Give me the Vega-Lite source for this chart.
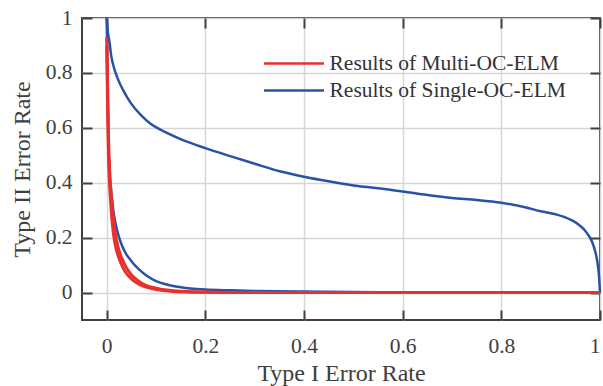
{
  "$schema": "https://vega.github.io/schema/vega-lite/v6.json",
  "width": 518,
  "height": 302,
  "autosize": {"type": "none"},
  "padding": {"left": 82, "top": 18, "right": 3, "bottom": 66},
  "config": {
    "view": {"stroke": "#404040", "strokeWidth": 2},
    "font": "Liberation Serif",
    "style": {
      "guide-label": {"font": "Liberation Serif"},
      "guide-title": {"font": "Liberation Serif"}
    },
    "axis": {
      "domain": false,
      "gridColor": "#d6d6d6",
      "gridWidth": 1.5,
      "tickColor": "#404040",
      "tickWidth": 2,
      "tickSize": -10,
      "labelFont": "Liberation Serif",
      "labelFontSize": 21.5,
      "labelColor": "#404040",
      "titleFont": "Liberation Serif",
      "titleFontSize": 24,
      "titleFontWeight": "normal",
      "titleColor": "#404040"
    },
    "legend": {
      "orient": "none",
      "legendX": 180.5,
      "legendY": 29,
      "padding": 0,
      "symbolType": "M-1,0L3,0",
      "symbolSize": 900,
      "symbolStrokeWidth": 2.5,
      "labelFont": "Liberation Serif",
      "labelFontSize": 21.5,
      "labelColor": "#333333",
      "labelOffset": 34,
      "labelLimit": 400,
      "rowPadding": 0
    }
  },
  "datasets": {
    "curves": [
      {"series": "Results of Single-OC-ELM", "curve": "a", "x": 0, "y": 1},
      {"series": "Results of Single-OC-ELM", "curve": "a", "x": 0.002, "y": 0.956},
      {"series": "Results of Single-OC-ELM", "curve": "a", "x": 0.006, "y": 0.908},
      {"series": "Results of Single-OC-ELM", "curve": "a", "x": 0.009, "y": 0.865},
      {"series": "Results of Single-OC-ELM", "curve": "a", "x": 0.015, "y": 0.818},
      {"series": "Results of Single-OC-ELM", "curve": "a", "x": 0.022, "y": 0.781},
      {"series": "Results of Single-OC-ELM", "curve": "a", "x": 0.035, "y": 0.732},
      {"series": "Results of Single-OC-ELM", "curve": "a", "x": 0.049, "y": 0.69},
      {"series": "Results of Single-OC-ELM", "curve": "a", "x": 0.069, "y": 0.647},
      {"series": "Results of Single-OC-ELM", "curve": "a", "x": 0.089, "y": 0.615},
      {"series": "Results of Single-OC-ELM", "curve": "a", "x": 0.105, "y": 0.597},
      {"series": "Results of Single-OC-ELM", "curve": "a", "x": 0.123, "y": 0.581},
      {"series": "Results of Single-OC-ELM", "curve": "a", "x": 0.15, "y": 0.559},
      {"series": "Results of Single-OC-ELM", "curve": "a", "x": 0.2, "y": 0.526},
      {"series": "Results of Single-OC-ELM", "curve": "a", "x": 0.252, "y": 0.496},
      {"series": "Results of Single-OC-ELM", "curve": "a", "x": 0.302, "y": 0.468},
      {"series": "Results of Single-OC-ELM", "curve": "a", "x": 0.353, "y": 0.441},
      {"series": "Results of Single-OC-ELM", "curve": "a", "x": 0.4, "y": 0.422},
      {"series": "Results of Single-OC-ELM", "curve": "a", "x": 0.45, "y": 0.405},
      {"series": "Results of Single-OC-ELM", "curve": "a", "x": 0.5, "y": 0.39},
      {"series": "Results of Single-OC-ELM", "curve": "a", "x": 0.55, "y": 0.38},
      {"series": "Results of Single-OC-ELM", "curve": "a", "x": 0.6, "y": 0.368},
      {"series": "Results of Single-OC-ELM", "curve": "a", "x": 0.65, "y": 0.355},
      {"series": "Results of Single-OC-ELM", "curve": "a", "x": 0.7, "y": 0.344},
      {"series": "Results of Single-OC-ELM", "curve": "a", "x": 0.75, "y": 0.337},
      {"series": "Results of Single-OC-ELM", "curve": "a", "x": 0.8, "y": 0.327},
      {"series": "Results of Single-OC-ELM", "curve": "a", "x": 0.85, "y": 0.31},
      {"series": "Results of Single-OC-ELM", "curve": "a", "x": 0.88, "y": 0.296},
      {"series": "Results of Single-OC-ELM", "curve": "a", "x": 0.91, "y": 0.285},
      {"series": "Results of Single-OC-ELM", "curve": "a", "x": 0.941, "y": 0.265},
      {"series": "Results of Single-OC-ELM", "curve": "a", "x": 0.955, "y": 0.25},
      {"series": "Results of Single-OC-ELM", "curve": "a", "x": 0.968, "y": 0.229},
      {"series": "Results of Single-OC-ELM", "curve": "a", "x": 0.978, "y": 0.205},
      {"series": "Results of Single-OC-ELM", "curve": "a", "x": 0.985, "y": 0.18},
      {"series": "Results of Single-OC-ELM", "curve": "a", "x": 0.991, "y": 0.145},
      {"series": "Results of Single-OC-ELM", "curve": "a", "x": 0.995, "y": 0.108},
      {"series": "Results of Single-OC-ELM", "curve": "a", "x": 0.998, "y": 0.06},
      {"series": "Results of Single-OC-ELM", "curve": "a", "x": 1, "y": 0},
      {"series": "Results of Single-OC-ELM", "curve": "b", "x": 0, "y": 1},
      {"series": "Results of Single-OC-ELM", "curve": "b", "x": 0.001, "y": 0.9},
      {"series": "Results of Single-OC-ELM", "curve": "b", "x": 0.002, "y": 0.75},
      {"series": "Results of Single-OC-ELM", "curve": "b", "x": 0.003, "y": 0.6},
      {"series": "Results of Single-OC-ELM", "curve": "b", "x": 0.005, "y": 0.46},
      {"series": "Results of Single-OC-ELM", "curve": "b", "x": 0.008, "y": 0.39},
      {"series": "Results of Single-OC-ELM", "curve": "b", "x": 0.011, "y": 0.338},
      {"series": "Results of Single-OC-ELM", "curve": "b", "x": 0.015, "y": 0.28},
      {"series": "Results of Single-OC-ELM", "curve": "b", "x": 0.02, "y": 0.235},
      {"series": "Results of Single-OC-ELM", "curve": "b", "x": 0.028, "y": 0.185},
      {"series": "Results of Single-OC-ELM", "curve": "b", "x": 0.038, "y": 0.145},
      {"series": "Results of Single-OC-ELM", "curve": "b", "x": 0.049, "y": 0.117},
      {"series": "Results of Single-OC-ELM", "curve": "b", "x": 0.065, "y": 0.085},
      {"series": "Results of Single-OC-ELM", "curve": "b", "x": 0.082, "y": 0.06},
      {"series": "Results of Single-OC-ELM", "curve": "b", "x": 0.1, "y": 0.042},
      {"series": "Results of Single-OC-ELM", "curve": "b", "x": 0.12, "y": 0.03},
      {"series": "Results of Single-OC-ELM", "curve": "b", "x": 0.137, "y": 0.023},
      {"series": "Results of Single-OC-ELM", "curve": "b", "x": 0.17, "y": 0.015},
      {"series": "Results of Single-OC-ELM", "curve": "b", "x": 0.2, "y": 0.011},
      {"series": "Results of Single-OC-ELM", "curve": "b", "x": 0.25, "y": 0.008},
      {"series": "Results of Single-OC-ELM", "curve": "b", "x": 0.3, "y": 0.006},
      {"series": "Results of Single-OC-ELM", "curve": "b", "x": 0.4, "y": 0.004},
      {"series": "Results of Single-OC-ELM", "curve": "b", "x": 0.5, "y": 0.002},
      {"series": "Results of Single-OC-ELM", "curve": "b", "x": 0.6, "y": 0.001},
      {"series": "Results of Single-OC-ELM", "curve": "b", "x": 0.7, "y": 0},
      {"series": "Results of Single-OC-ELM", "curve": "b", "x": 1, "y": 0},
      {"series": "Results of Multi-OC-ELM", "curve": "c", "x": 0, "y": 0.93},
      {"series": "Results of Multi-OC-ELM", "curve": "c", "x": 0.002, "y": 0.75},
      {"series": "Results of Multi-OC-ELM", "curve": "c", "x": 0.004, "y": 0.55},
      {"series": "Results of Multi-OC-ELM", "curve": "c", "x": 0.006, "y": 0.45},
      {"series": "Results of Multi-OC-ELM", "curve": "c", "x": 0.009, "y": 0.36},
      {"series": "Results of Multi-OC-ELM", "curve": "c", "x": 0.013, "y": 0.28},
      {"series": "Results of Multi-OC-ELM", "curve": "c", "x": 0.018, "y": 0.21},
      {"series": "Results of Multi-OC-ELM", "curve": "c", "x": 0.024, "y": 0.16},
      {"series": "Results of Multi-OC-ELM", "curve": "c", "x": 0.032, "y": 0.12},
      {"series": "Results of Multi-OC-ELM", "curve": "c", "x": 0.04, "y": 0.09},
      {"series": "Results of Multi-OC-ELM", "curve": "c", "x": 0.05, "y": 0.065},
      {"series": "Results of Multi-OC-ELM", "curve": "c", "x": 0.062, "y": 0.045},
      {"series": "Results of Multi-OC-ELM", "curve": "c", "x": 0.075, "y": 0.03},
      {"series": "Results of Multi-OC-ELM", "curve": "c", "x": 0.09, "y": 0.02},
      {"series": "Results of Multi-OC-ELM", "curve": "c", "x": 0.11, "y": 0.012},
      {"series": "Results of Multi-OC-ELM", "curve": "c", "x": 0.14, "y": 0.006},
      {"series": "Results of Multi-OC-ELM", "curve": "c", "x": 0.2, "y": 0.002},
      {"series": "Results of Multi-OC-ELM", "curve": "c", "x": 0.3, "y": 0},
      {"series": "Results of Multi-OC-ELM", "curve": "c", "x": 1, "y": 0},
      {"series": "Results of Multi-OC-ELM", "curve": "d", "x": 0, "y": 0.9},
      {"series": "Results of Multi-OC-ELM", "curve": "d", "x": 0.0015, "y": 0.72},
      {"series": "Results of Multi-OC-ELM", "curve": "d", "x": 0.003, "y": 0.55},
      {"series": "Results of Multi-OC-ELM", "curve": "d", "x": 0.0045, "y": 0.45},
      {"series": "Results of Multi-OC-ELM", "curve": "d", "x": 0.007, "y": 0.36},
      {"series": "Results of Multi-OC-ELM", "curve": "d", "x": 0.01, "y": 0.28},
      {"series": "Results of Multi-OC-ELM", "curve": "d", "x": 0.014, "y": 0.21},
      {"series": "Results of Multi-OC-ELM", "curve": "d", "x": 0.019, "y": 0.16},
      {"series": "Results of Multi-OC-ELM", "curve": "d", "x": 0.026, "y": 0.12},
      {"series": "Results of Multi-OC-ELM", "curve": "d", "x": 0.033, "y": 0.09},
      {"series": "Results of Multi-OC-ELM", "curve": "d", "x": 0.042, "y": 0.065},
      {"series": "Results of Multi-OC-ELM", "curve": "d", "x": 0.053, "y": 0.045},
      {"series": "Results of Multi-OC-ELM", "curve": "d", "x": 0.066, "y": 0.03},
      {"series": "Results of Multi-OC-ELM", "curve": "d", "x": 0.08, "y": 0.02},
      {"series": "Results of Multi-OC-ELM", "curve": "d", "x": 0.1, "y": 0.011},
      {"series": "Results of Multi-OC-ELM", "curve": "d", "x": 0.13, "y": 0.005},
      {"series": "Results of Multi-OC-ELM", "curve": "d", "x": 0.2, "y": 0.001},
      {"series": "Results of Multi-OC-ELM", "curve": "d", "x": 0.3, "y": 0},
      {"series": "Results of Multi-OC-ELM", "curve": "d", "x": 1, "y": 0}
    ]
  },
  "data": {"name": "curves"},
  "resolve": {"axis": {"x": "independent", "y": "independent"}},
  "layer": [
    {
      "encoding": {
        "x": {
          "field": "x", "type": "quantitative",
          "scale": {"domain": [-0.05, 1], "nice": false, "zero": false},
          "axis": {"orient": "bottom", "values": [0, 0.2, 0.4, 0.6, 0.8, 1], "format": "~g", "title": "Type I Error Rate", "labelPadding": 25, "titlePadding": 5, "labelFont": "Liberation Serif", "titleFont": "Liberation Serif"}
        },
        "y": {
          "field": "y", "type": "quantitative",
          "scale": {"domain": [-0.1, 1], "nice": false, "zero": false},
          "axis": {"orient": "left", "values": [0, 0.2, 0.4, 0.6, 0.8, 1], "format": "~g", "title": "Type II Error Rate", "labelPadding": 20, "titlePadding": 11, "labelFont": "Liberation Serif", "titleFont": "Liberation Serif"}
        },
        "color": {
          "field": "series", "type": "nominal",
          "scale": {"domain": ["Results of Multi-OC-ELM", "Results of Single-OC-ELM"], "range": ["#e8302f", "#2653a6"]},
          "legend": {"title": null, "labelFont": "Liberation Serif"}
        },
        "detail": {"field": "curve"}
      },
      "layer": [
        {
          "transform": [{"filter": "datum.series === 'Results of Single-OC-ELM'"}],
          "mark": {"type": "line", "strokeWidth": 2.5, "interpolate": "monotone"}
        },
        {
          "transform": [{"filter": "datum.series === 'Results of Multi-OC-ELM'"}],
          "mark": {"type": "line", "strokeWidth": 3, "interpolate": "monotone"}
        }
      ]
    },
    {
      "mark": {"type": "line", "opacity": 0},
      "encoding": {
        "x": {"field": "x", "type": "quantitative", "axis": {"orient": "top", "values": [0, 0.2, 0.4, 0.6, 0.8, 1], "labels": false, "grid": false, "title": null}},
        "y": {"field": "y", "type": "quantitative", "axis": {"orient": "right", "values": [0, 0.2, 0.4, 0.6, 0.8, 1], "labels": false, "grid": false, "title": null}},
        "detail": {"field": "curve"}
      }
    }
  ]
}
